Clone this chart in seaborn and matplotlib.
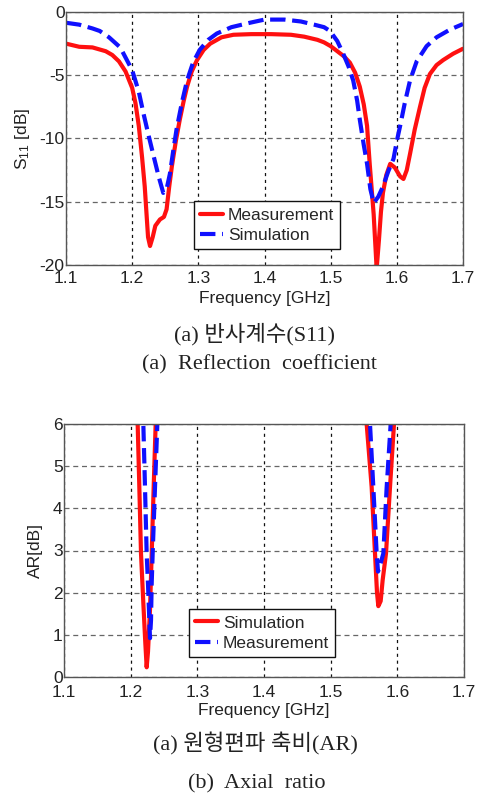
import numpy as np
import pandas as pd
import matplotlib
matplotlib.use("Agg")
import matplotlib.pyplot as plt
import seaborn as sns

# ---------------- data ----------------
xticks = [1.1, 1.2, 1.3, 1.4, 1.5, 1.6, 1.7]
xtick_labels = ["1.1", "1.2", "1.3", "1.4", "1.5", "1.6", "1.7"]
s11_yticks = [0, -5, -10, -15, -20]
s11_ytick_labels = ["0", "-5", "-10", "-15", "-20"]
ar_yticks = [0, 1, 2, 3, 4, 5, 6]
ar_ytick_labels = ["0", "1", "2", "3", "4", "5", "6"]

s11_meas_f = [1.10, 1.12, 1.14, 1.16, 1.17, 1.18, 1.19, 1.20, 1.205, 1.21, 1.215, 1.219,
              1.224, 1.227, 1.231, 1.235, 1.242, 1.248, 1.252, 1.256, 1.26, 1.266, 1.272,
              1.278, 1.283, 1.29, 1.298, 1.308, 1.318, 1.335, 1.353, 1.38, 1.41, 1.44,
              1.46, 1.48, 1.49, 1.50, 1.51, 1.52, 1.529, 1.537, 1.544, 1.55, 1.555, 1.559,
              1.562, 1.565, 1.5695, 1.573, 1.576, 1.579, 1.584, 1.59, 1.597, 1.605, 1.61,
              1.615, 1.62, 1.627, 1.635, 1.642, 1.65, 1.66, 1.67, 1.685, 1.70]
s11_meas_db = [-2.5, -2.75, -2.8, -3.1, -3.4, -3.9, -4.7, -6.0, -7.2, -9.0, -11.5, -13.8,
               -17.8, -18.5, -17.8, -16.9, -16.4, -16.2, -15.6, -13.8, -12.2, -10.2, -8.5,
               -7.0, -5.9, -4.7, -3.8, -3.0, -2.5, -2.0, -1.8, -1.75, -1.75, -1.8,
               -1.95, -2.2, -2.4, -2.7, -3.1, -3.5, -4.0, -4.8, -5.9, -7.3, -9.0, -12.0,
               -14.0, -16.0, -20.3, -18.0, -15.8, -14.3, -12.9, -12.0, -12.3, -13.0, -13.2,
               -12.5, -11.2, -9.3, -7.5, -6.0, -4.9, -4.2, -3.8, -3.3, -2.9]

s11_sim_f = [1.10, 1.12, 1.14, 1.151, 1.165, 1.182, 1.20, 1.21, 1.217, 1.225, 1.232, 1.24,
             1.247, 1.252, 1.257, 1.262, 1.267, 1.275, 1.283, 1.292, 1.302, 1.315, 1.328,
             1.35, 1.378, 1.40, 1.43, 1.455, 1.475, 1.49, 1.499, 1.51, 1.519, 1.527, 1.534,
             1.54, 1.544, 1.55, 1.555, 1.56, 1.565, 1.572, 1.579, 1.587, 1.595, 1.60, 1.605,
             1.612, 1.62, 1.63, 1.645, 1.66, 1.68, 1.70]
s11_sim_db = [-0.85, -1.0, -1.3, -1.5, -2.0, -2.8, -4.6, -6.3, -8.0, -9.8, -11.3, -13.0,
              -14.3, -14.0, -12.8, -11.0, -9.3, -7.2, -5.4, -4.0, -3.0, -2.2, -1.7,
              -1.2, -0.85, -0.6, -0.6, -0.75, -1.0, -1.2, -1.5, -2.3, -3.3, -4.3, -5.4,
              -7.0, -8.5, -10.5, -12.0, -14.0, -15.1, -14.6, -13.8, -12.6, -11.6, -10.2, -9.0,
              -7.2, -5.4, -3.9, -2.7, -2.0, -1.4, -0.95]

# Axial ratio, two separate bands per series
ar_sim_f1 = [1.2085, 1.2105, 1.213, 1.2155, 1.219, 1.222, 1.224, 1.226, 1.229, 1.2315, 1.2345, 1.2375, 1.2395]
ar_sim_v1 = [7.0, 6.0, 4.5, 2.93, 1.75, 0.8, 0.23, 0.6, 1.6, 2.9, 4.5, 6.0, 7.0]
ar_sim_f2 = [1.5515, 1.554, 1.5615, 1.5665, 1.5695, 1.5715, 1.575, 1.578, 1.583, 1.589, 1.595, 1.5975]
ar_sim_v2 = [7.0, 6.0, 4.5, 2.93, 2.0, 1.68, 1.8, 2.3, 2.93, 4.5, 6.0, 7.0]

ar_meas_f1 = [1.2175, 1.219, 1.2215, 1.224, 1.226, 1.228, 1.229, 1.2305, 1.2315, 1.233, 1.2365, 1.240, 1.2415]
ar_meas_v1 = [7.0, 6.0, 4.5, 2.93, 2.2, 1.34, 0.92, 1.34, 2.2, 2.93, 4.5, 6.0, 7.0]
ar_meas_f2 = [1.5575, 1.559, 1.564, 1.569, 1.571, 1.575, 1.579, 1.584, 1.59, 1.592]
ar_meas_v2 = [7.0, 6.0, 4.5, 2.93, 2.5, 2.7, 2.93, 4.5, 6.0, 7.0]

# ---------------- style ----------------
sns.set_theme(style="white")
plt.rcParams["font.family"] = ["Liberation Sans", "DejaVu Sans"]
plt.rcParams["mathtext.fontset"] = "custom"
plt.rcParams["mathtext.rm"] = "Liberation Sans"
plt.rcParams["mathtext.it"] = "Liberation Sans"

FS = 12.5
RED = "#ff1010"
BLUE = "#1010ff"
LW = 3.0

fig = plt.figure(figsize=(4.81, 7.99), dpi=100)
ax1 = fig.add_axes([66 / 481, 1 - 265 / 799, 397 / 481, 253 / 799])
ax2 = fig.add_axes([64 / 481, 1 - 677 / 799, 400 / 481, 253 / 799])


def style_axes(ax, xpad):
    ax.set_axisbelow(True)
    ax.xaxis.grid(True, color="#111111", linestyle=(0, (2.5, 3)), linewidth=0.9)
    ax.yaxis.grid(True, color="#666666", linestyle=(0, (4, 3)), linewidth=0.9)
    for s in ax.spines.values():
        s.set_color("#555555")
        s.set_linewidth(1.0)
    ax.tick_params(direction="in", length=3, width=0.8, colors="#333333",
                   labelcolor="#222222", labelsize=FS)
    ax.tick_params(axis="y", pad=1)
    ax.tick_params(axis="x", pad=xpad)


# ---- top: S11 ----
sns.lineplot(x=s11_meas_f, y=s11_meas_db, ax=ax1, color=RED, lw=LW,
             estimator=None, sort=False, label="Measurement")
sns.lineplot(x=s11_sim_f, y=s11_sim_db, ax=ax1, color=BLUE, lw=LW,
             linestyle="--", estimator=None, sort=False, label="Simulation")
ax1.set_xlim(1.1, 1.7)
ax1.set_ylim(-20, 0)
ax1.set_xticks(xticks)
ax1.set_xticklabels(xtick_labels)
ax1.set_yticks(s11_yticks)
ax1.set_yticklabels(s11_ytick_labels)
style_axes(ax1, 4.5)
ax1.set_xlabel("Frequency [GHz]", fontsize=FS, color="#222222")
ax1.set_ylabel("S$_{11}$ [dB]", fontsize=FS, color="#222222")
ax1.xaxis.set_label_coords(0.5, -(298 - 265) / 253)
ax1.xaxis.label.set_verticalalignment("center")
ax1.yaxis.set_label_coords((22 - 66) / 397, 0.5)
ax1.yaxis.label.set_verticalalignment("center")
leg1 = ax1.legend(loc="lower left", bbox_to_anchor=((194 - 66) / 397, 0.063),
                  fontsize=FS, frameon=True, fancybox=False, framealpha=1,
                  edgecolor="#111111", handlelength=1.3, handletextpad=0.3,
                  borderpad=0.35, labelspacing=0.3, borderaxespad=0)
leg1.get_frame().set_linewidth(1.0)

# ---- bottom: AR ----
sns.lineplot(x=ar_sim_f1, y=ar_sim_v1, ax=ax2, color=RED, lw=LW,
             estimator=None, sort=False, label="Simulation")
sns.lineplot(x=ar_sim_f2, y=ar_sim_v2, ax=ax2, color=RED, lw=LW,
             estimator=None, sort=False)
sns.lineplot(x=ar_meas_f1, y=ar_meas_v1, ax=ax2, color=BLUE, lw=LW,
             linestyle="--", estimator=None, sort=False, label="Measurement")
sns.lineplot(x=ar_meas_f2, y=ar_meas_v2, ax=ax2, color=BLUE, lw=LW,
             linestyle="--", estimator=None, sort=False)
ax2.set_xlim(1.1, 1.7)
ax2.set_ylim(0, 6)
ax2.set_xticks(xticks)
ax2.set_xticklabels(xtick_labels)
ax2.set_yticks(ar_yticks)
ax2.set_yticklabels(ar_ytick_labels)
style_axes(ax2, 6)
ax2.set_xlabel("Frequency [GHz]", fontsize=FS, color="#222222")
ax2.set_ylabel("AR[dB]", fontsize=FS, color="#222222")
ax2.xaxis.set_label_coords(0.5, -(710 - 677) / 253)
ax2.xaxis.label.set_verticalalignment("center")
ax2.yaxis.set_label_coords((35 - 64) / 400, 0.5)
ax2.yaxis.label.set_verticalalignment("center")
leg2 = ax2.legend(loc="lower left", bbox_to_anchor=((189 - 64) / 400, 0.079),
                  fontsize=FS, frameon=True, fancybox=False, framealpha=1,
                  edgecolor="#111111", handlelength=1.3, handletextpad=0.3,
                  borderpad=0.35, labelspacing=0.3, borderaxespad=0)
leg2.get_frame().set_linewidth(1.0)

# ---- captions ----
cap_font = ["Liberation Serif", "Noto Sans CJK KR", "DejaVu Serif"]
CFS = 16
fig.text(255 / 481, 1 - 334 / 799, "(a) 반사계수(S11)", family=cap_font,
         fontsize=CFS, ha="center", va="center", color="#222222")
fig.text(260 / 481, 1 - 365 / 799, "(a)  Reflection  coefficient", family=cap_font,
         fontsize=CFS, ha="center", va="center", color="#222222")
fig.text(255 / 481, 1 - 744 / 799, "(a) 원형편파 축비(AR)", family=cap_font,
         fontsize=CFS, ha="center", va="center", color="#222222")
fig.text(257 / 481, 1 - 784 / 799, "(b)  Axial  ratio", family=cap_font,
         fontsize=CFS, ha="center", va="center", color="#222222")

fig.savefig("out.png", dpi=100)
